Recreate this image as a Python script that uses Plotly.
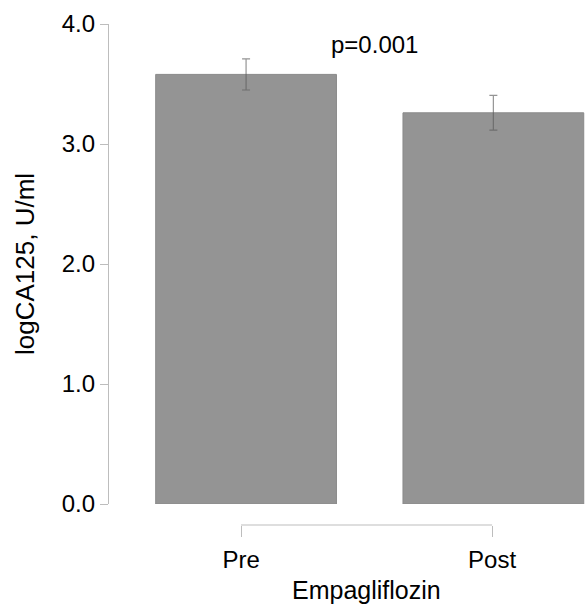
import plotly.graph_objects as go

categories = ["Pre", "Post"]
means = [3.58, 3.26]
errors = [0.13, 0.145]
y_ticks = [0.0, 1.0, 2.0, 3.0, 4.0]
y_tick_labels = ["0.0", "1.0", "2.0", "3.0", "4.0"]
p_label = "p=0.001"

FONT = "Liberation Sans, Arial, sans-serif"
AXIS_GRAY = "#bdbdbd"

fig = go.Figure()
fig.add_trace(go.Bar(
    x=categories, y=means, width=0.72, offset=[-0.34, -0.355],
    marker=dict(color="#949494", line=dict(color="#8a8a8a", width=1)),
    error_y=dict(type="data", array=errors, visible=True,
                 color="rgba(90,90,90,0.65)", thickness=1.2, width=4),
    showlegend=False,
))

plot_h = 606 - 24 - 81
fig.update_layout(
    width=587, height=606,
    margin=dict(l=109, r=0, t=24, b=81),
    paper_bgcolor="white", plot_bgcolor="white",
    font=dict(family=FONT, size=24, color="black"),
    xaxis=dict(type="category", range=[-0.526, 1.378], anchor="free", position=0,
               showline=False, showgrid=False, zeroline=False,
               ticks="outside", ticklen=11, tickcolor=AXIS_GRAY, tickwidth=1.2,
               tickfont=dict(size=24), ticklabelstandoff=2),
    yaxis=dict(range=[0, 4], domain=[21 / plot_h, 1],
               tickvals=y_ticks, ticktext=y_tick_labels,
               showline=True, linecolor=AXIS_GRAY, linewidth=1.2,
               showgrid=False, zeroline=False,
               ticks="outside", ticklen=8, tickcolor=AXIS_GRAY, tickwidth=1.2,
               tickfont=dict(size=24), ticklabelstandoff=0),
    shapes=[dict(type="line", xref="x", yref="paper", x0=categories[0], x1=categories[1],
                 y0=0, y1=0, line=dict(color=AXIS_GRAY, width=1.2))],
    annotations=[
        dict(text=p_label, xref="x", yref="y", x=0.53, y=3.83, showarrow=False,
             font=dict(size=24), xanchor="center", yanchor="middle"),
        dict(text="Empagliflozin", xref="x", yref="paper", x=0.5, y=0,
             yshift=-65, showarrow=False, font=dict(size=25),
             xanchor="center", yanchor="middle"),
        dict(text="logCA125, U/ml", xref="paper", yref="paper", x=0, xshift=-84,
             y=(21 / plot_h + 1) / 2, showarrow=False, textangle=-90,
             font=dict(size=26), xanchor="center", yanchor="middle"),
    ],
)

fig.write_html(
    "out.html",
    config={"displayModeBar": False},
    post_script="document.body.style.margin='0';document.body.style.overflow='hidden';",
)
